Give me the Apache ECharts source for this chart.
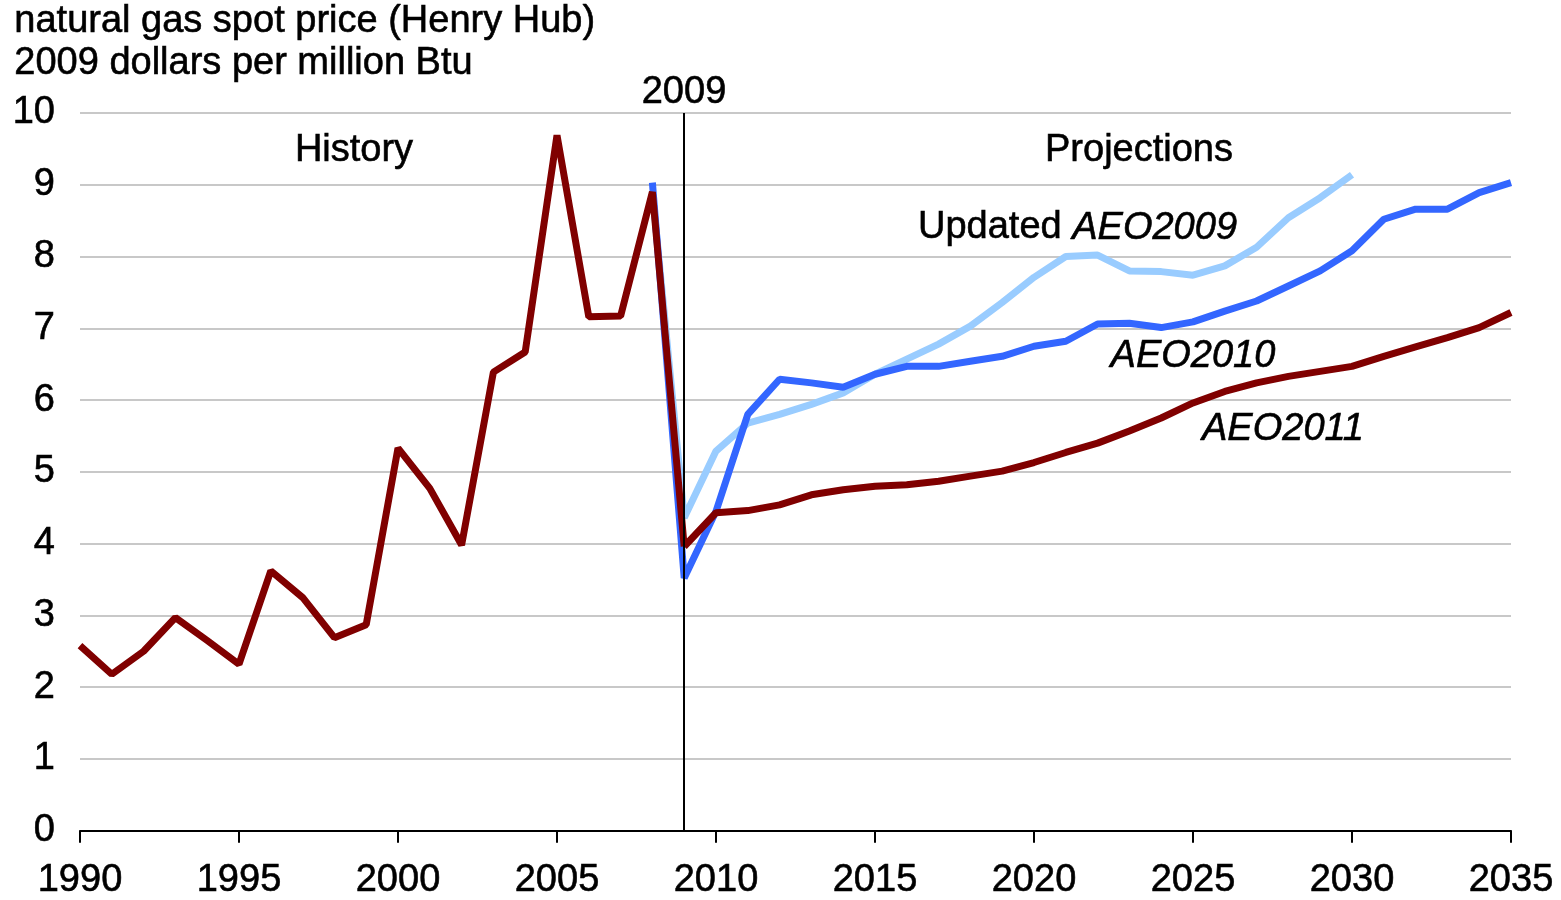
<!DOCTYPE html>
<html><head><meta charset="utf-8">
<script src="https://cdn.jsdelivr.net/npm/echarts@6/dist/echarts.min.js"></script>
<style>html,body{margin:0;padding:0;background:#fff}#c{width:1561px;height:900px}</style>
</head><body><div id="c"></div>
<script>
const histYears = [1990,1991,1992,1993,1994,1995,1996,1997,1998,1999,2000,2001,2002,2003,2004,2005,2006,2007,2008,2009];
const histValues = [2.58,2.18,2.5,2.97,2.65,2.32,3.62,3.25,2.69,2.87,5.33,4.77,3.98,6.39,6.67,9.69,7.16,7.17,8.9,3.96];
const projYears = [2009,2010,2011,2012,2013,2014,2015,2016,2017,2018,2019,2020,2021,2022,2023,2024,2025,2026,2027,2028,2029,2030,2031,2032,2033,2034,2035];
const aeo2009 = [4.36,5.29,5.68,5.80,5.94,6.10,6.36,6.57,6.78,7.03,7.36,7.71,8.0,8.02,7.8,7.79,7.74,7.87,8.13,8.54,8.82,9.14];
const aeo2010 = [3.52,4.45,5.8,6.29,6.24,6.18,6.36,6.47,6.47,6.54,6.61,6.75,6.82,7.06,7.07,7.01,7.09,7.24,7.38,7.59,7.80,8.08,8.52,8.66,8.66,8.89,9.03];
const aeo2011 = [3.96,4.43,4.46,4.54,4.68,4.75,4.80,4.82,4.87,4.94,5.01,5.13,5.27,5.40,5.57,5.75,5.96,6.12,6.24,6.33,6.40,6.47,6.61,6.74,6.87,7.01,7.22];
const xTicks = [1990,1995,2000,2005,2010,2015,2020,2025,2030,2035];
const yTicks = [0,1,2,3,4,5,6,7,8,9,10];

const FONT = 'Liberation Sans, Arial, sans-serif';
const FS = 38;
const pair = (xs, vs) => vs.map((v, i) => [xs[i], v]);
const histAt2008 = pair(histYears, histValues).filter(p => p[0] === 2008);
const txt = (extra) => Object.assign({fill: '#000', stroke: '#000', lineWidth: 0.6}, extra);

const chart = echarts.init(document.getElementById('c'));
chart.setOption({
  animation: false,
  grid: {left: 80, right: 50, top: 113, bottom: 66},
  xAxis: {
    type: 'value', min: 1990, max: 2035, interval: 5,
    axisLine: {lineStyle: {color: '#000', width: 2}},
    axisTick: {show: true, length: 12, lineStyle: {color: '#000', width: 2}},
    axisLabel: {fontFamily: FONT, fontSize: FS, color: '#000', margin: 31,
      textBorderColor: '#000', textBorderWidth: 0.6,
      formatter: v => xTicks.includes(v) ? String(v) : ''},
    splitLine: {show: false}
  },
  yAxis: {
    type: 'value', min: 0, max: 10, interval: 1,
    axisLine: {show: false}, axisTick: {show: false},
    axisLabel: {fontFamily: FONT, fontSize: FS, color: '#000', margin: 25,
      textBorderColor: '#000', textBorderWidth: 0.6,
      formatter: v => yTicks.includes(v) ? String(v) : ''},
    splitLine: {lineStyle: {color: '#c8c8c8', width: 2}}
  },
  series: [
    {type: 'line', name: 'Updated AEO2009', symbol: 'none', z: 2,
     lineStyle: {color: '#99ccff', width: 7},
     data: histAt2008.concat(pair(projYears, aeo2009))},
    {type: 'line', name: 'AEO2010', symbol: 'none', z: 3,
     lineStyle: {color: '#3366ff', width: 7},
     data: [[2008, 9.03]].concat(pair(projYears, aeo2010))},
    {type: 'line', name: 'History', symbol: 'none', z: 4,
     lineStyle: {color: '#800000', width: 7},
     data: pair(histYears, histValues),
     markLine: {silent: true, symbol: 'none', label: {show: false},
       lineStyle: {color: '#000', width: 2, type: 'solid'},
       data: [{xAxis: 2009}]}},
    {type: 'line', name: 'AEO2011', symbol: 'none', z: 4,
     lineStyle: {color: '#800000', width: 7},
     data: pair(projYears, aeo2011)}
  ],
  graphic: [
    {type: 'text', left: 14, top: 2, style: txt({text: 'natural gas spot price (Henry Hub)', font: FS + 'px ' + FONT})},
    {type: 'text', left: 14, top: 44, style: txt({text: '2009 dollars per million Btu', font: FS + 'px ' + FONT})},
    {type: 'text', x: 684, y: 93, style: txt({text: '2009', font: FS + 'px ' + FONT, align: 'center', verticalAlign: 'middle'})},
    {type: 'text', x: 354, y: 151, style: txt({text: 'History', font: FS + 'px ' + FONT, align: 'center', verticalAlign: 'middle'})},
    {type: 'text', x: 1139, y: 151, style: txt({text: 'Projections', font: FS + 'px ' + FONT, align: 'center', verticalAlign: 'middle'})},
    {type: 'text', x: 918, y: 228, style: {text: '{n|Updated }{i|AEO2009}', verticalAlign: 'middle',
      rich: {n: {font: FS + 'px ' + FONT, fill: '#000', stroke: '#000', lineWidth: 0.6},
             i: {font: 'italic ' + FS + 'px ' + FONT, fill: '#000', stroke: '#000', lineWidth: 0.6}}}},
    {type: 'text', x: 1193, y: 356, style: txt({text: 'AEO2010', font: 'italic ' + FS + 'px ' + FONT, align: 'center', verticalAlign: 'middle'})},
    {type: 'text', x: 1283, y: 429, style: txt({text: 'AEO2011', font: 'italic ' + FS + 'px ' + FONT, align: 'center', verticalAlign: 'middle'})}
  ]
});
</script></body></html>
